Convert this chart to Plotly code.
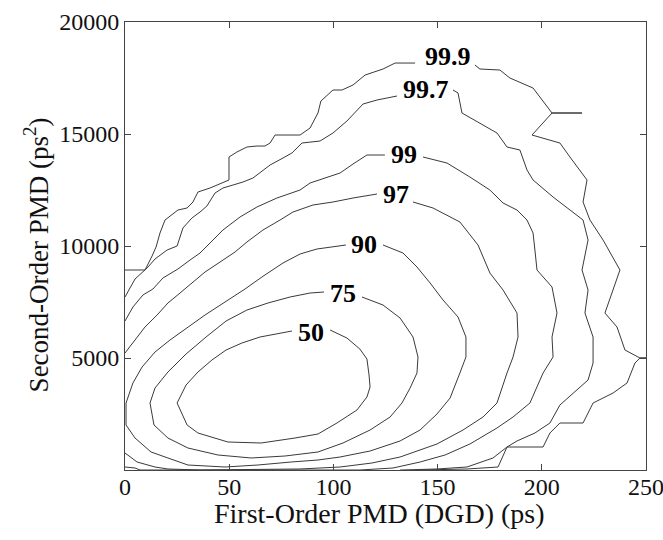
import plotly.graph_objects as go

# Contour levels of the joint first-/second-order PMD distribution (percent of samples enclosed).
# Each level is a polyline in data units; None marks the break left for the inline label.
dgd_50 = [25.0, 29.3, 35.0, 41.7, 48.5, 56.1, 64.8, 73.4, 80.1, None,
          98.4, 106.5, 112.7, 116.1, 117.1, 117.6, 116.1, 111.3, 101.7, 92.6,
          81.6, 65.3, 49.4, 35.0, 29.8, 25.0]
sopmd_50 = [2991, 3794, 4375, 4910, 5357, 5669, 5937, 6071, 6205, None,
            6250, 5892, 5401, 4955, 4241, 3705, 3259, 2678, 2098, 1607,
            1428, 1205, 1250, 1652, 2009, 2991]

dgd_75 = [12.0, 14.4, 20.6, 29.3, 38.9, 48.5, 58.5, 68.6, 79.2, 88.8, 95.5, None,
          113.7, 123.8, 132.0, 138.2, 140.6, 140.1, 136.8, 132.9, 127.2, 117.6,
          104.6, 92.6, 76.8, 60.5, 44.6, 30.2, 20.6, 13.9, 12.0]
sopmd_75 = [2991, 3660, 4375, 5178, 5937, 6651, 7142, 7455, 7723, 7901, 7946, None,
            7723, 7366, 6785, 5937, 5044, 4330, 3660, 2991, 2366, 1786,
            1205, 804, 625, 536, 670, 982, 1428, 2009, 2991]

dgd_90 = [0.5, 3.8, 8.2, 14.4, 21.6, 30.2, 38.4, 48.0, 57.6, 65.7, 75.8, 84.0, 92.1, 106.0, None,
          123.8, 133.4, 140.1, 146.4, 152.6, 159.8, 163.6, 163.6, 160.7, 156.0, 149.7,
          141.6, 132.0, 117.6, 103.2, 92.6, 79.7, 63.8, 48.0, 30.2, 20.6, 12.5, 4.8, 0.5, 0.5]
sopmd_90 = [2991, 3884, 4598, 5267, 5803, 6384, 6919, 7500, 8080, 8616, 9241, 9643, 9866, 10044, None,
            10044, 9687, 9062, 8348, 7589, 6830, 5937, 5044, 4330, 3214, 2500,
            1786, 1295, 848, 580, 446, 357, 223, 134, 223, 536, 804, 1428, 2009, 2991]

dgd_97 = [0, 4.8, 9.6, 15.4, 20.6, 26.4, 32.1, 38.4, 45.6, 52.8, 58.5, 66.2, 74.4, 80.6,
          90.2, 99.8, 109.4, 120.9, None,
          138.2, 147.8, 160.7, 169.4, 175.1, 181.4, 188.1, 188.6, 186.2, 183.3, 178.5,
          171.8, 162.2, 149.7, 132.0, 118.5, 103.2, 84.0, 36.0, 20.6, 14.4, 5.8, 0]
sopmd_97 = [5223, 5803, 6384, 6919, 7455, 7901, 8348, 8839, 9285, 9732, 10178, 10714, 11160, 11517,
            11830, 11964, 12142, 12321, None,
            11964, 11696, 11071, 10044, 8794, 8035, 7008, 5937, 5044, 4330, 2991,
            2366, 1786, 1161, 580, 312, 134, 45, 0, 45, 134, 357, 759]

dgd_99 = [0, 3.8, 8.6, 13.4, 18.2, 25.4, 31.2, 36.0, 40.8, 47.0, 55.2, 63.3, 72.9, 84.0,
          88.8, 96.9, 103.2, 109.4, 116.1, 124.7, None,
          143.0, 154.5, 165.5, 175.1, 181.4, 188.1, 192.9, 195.8, 196.7, 197.7, 204.9,
          207.3, 204.9, 205.4, 200.6, 197.7, 194.3, 186.2, 178.5, 165.5, 153.6, 141.6,
          128.6, 112.7, 7.2, 4.8, 0]
sopmd_99 = [6651, 7276, 7812, 8080, 8571, 8973, 9374, 9687, 10133, 10714, 11294, 11740, 12142, 12499,
            12812, 13080, 13258, 13660, 14062, 14062, None,
            13973, 13704, 13080, 12499, 11919, 11606, 11160, 10580, 9821, 8928, 8169,
            7008, 5937, 5044, 4330, 3705, 2991, 2366, 1875, 1161, 670, 357,
            89, 0, 0, 89, 134]

dgd_997 = [0, 4.8, 10.6, 14.4, 20.2, 25.0, 27.8, 32.1, 36.0, 39.3, 43.2, 47.0, 51.8, 56.6,
           61.4, 66.2, 69.6, 75.8, 80.1, 84.9, 93.6, 99.8, 106.5, 114.2, 120.9, 125.7, 130.5, None,
           157.4, 159.8, 161.7, 170.3, 178.5, 183.3, 189.5, 192.9, 195.8, 205.4, 219.8, 222.2,
           219.3, 222.2, 220.7, 224.6, 224.6, 222.2, 213.5, 208.7, 203.9, 196.7, 188.1, 183.3,
           176.6, 169.4, 164.1, 149.7, 132.0]
sopmd_997 = [7723, 8526, 9017, 9419, 9821, 10000, 10803, 11249, 11517, 11785, 12365, 12589, 12722, 12856,
             13035, 13392, 13615, 13928, 14151, 14597, 14687, 15044, 15579, 16338, 16517, 16606, 16695, None,
             16963, 16830, 15937, 15490, 15044, 14419, 14285, 13392, 12946, 12187, 11160, 10267,
             8928, 8035, 7008, 5937, 4776, 4018, 3303, 2902, 2098, 1652, 1295, 1027,
             536, 312, 134, 45, 0]

dgd_999 = [0, 9.6, 13.0, 14.9, 16.8, 19.2, 25.4, 29.8, 32.6, 35.0, 40.8, 44.1, 48.0, 49.9, 49.9,
           53.7, 58.5, 63.3, 67.2, 69.6, 72.0, 84.0, 88.8, 92.6, 94.0, 99.8, 104.1, 109.4,
           115.2, 120.9, 123.8, 129.6, 139.2, None,
           167.9, 170.3, 179.9, 184.7, 195.8, 199.1, 204.9, 219.3, 204.9, 195.3, 208.7, 213.5,
           221.7, 219.8, 223.1, 229.4, 237.5, 230.3, 236.1, 239.9, 247.1, 250.0, 247.1, 244.7,
           240.9, 234.2, 224.6, 219.8, 208.7, 203.9, 200.6, 183.3, 179.0, 164.1, 141.6]
sopmd_999 = [8928, 8928, 9553, 9955, 10580, 11160, 11606, 11696, 11964, 12410, 12589, 12722, 12856, 12946, 13973,
             14196, 14419, 14463, 14463, 14597, 14954, 14954, 15267, 15937, 16472, 16963, 16963, 17186,
             17633, 17812, 17901, 18168, 18168, None,
             18080, 17901, 17856, 17499, 17052, 16651, 15937, 15937, 15937, 14954, 14597, 13973,
             12946, 11964, 11160, 10267, 8928, 7008, 6384, 5357, 5000, 5000, 5000, 4776,
             3884, 3437, 2991, 2098, 2098, 1652, 1027, 1027, 134, 45, 0]

# Inline contour labels
label_text = ["50", "75", "90", "97", "99", "99.7", "99.9"]
label_dgd = [89.4, 104.8, 114.9, 129.8, 133.7, 144.2, 154.8]
label_sopmd = [6120, 7860, 10060, 12320, 14080, 16990, 18440]

x_ticks = [0, 50, 100, 150, 200, 250]
y_ticks = [5000, 10000, 15000, 20000]

x_title = "First-Order PMD (DGD) (ps)"
y_title = "Second-Order PMD (ps<sup>2</sup>)"

levels = [
    (dgd_50, sopmd_50), (dgd_75, sopmd_75), (dgd_90, sopmd_90), (dgd_97, sopmd_97),
    (dgd_99, sopmd_99), (dgd_997, sopmd_997), (dgd_999, sopmd_999),
]

FONT = "Liberation Serif, Times New Roman, serif"
INK = "#3a3a3a"

fig = go.Figure()
for (xs, ys), name in zip(levels, label_text):
    fig.add_trace(go.Scatter(
        x=xs, y=ys, mode="lines", name=name, connectgaps=False,
        line=dict(color=INK, width=1), hoverinfo="skip", showlegend=False,
    ))

for t, x, y in zip(label_text, label_dgd, label_sopmd):
    fig.add_annotation(x=x, y=y, text=t, showarrow=False,
                       font=dict(family=FONT, size=26, color="#000000", weight="bold"),
                       xanchor="center", yanchor="middle")

# Axis titles placed as paper-anchored annotations
fig.add_annotation(xref="paper", yref="paper", x=0.489, y=-0.096, text=x_title,
                   showarrow=False, xanchor="center", yanchor="middle",
                   font=dict(family=FONT, size=28, color="#111111"))
fig.add_annotation(xref="paper", yref="paper", x=-0.17, y=0.48, text=y_title,
                   showarrow=False, xanchor="center", yanchor="middle", textangle=-90,
                   font=dict(family=FONT, size=27, color="#111111"))

axis_common = dict(
    showgrid=False, zeroline=False, showline=True, mirror="allticks",
    linecolor="#444444", linewidth=1, ticks="inside", ticklen=6, tickcolor="#444444",
    tickfont=dict(family=FONT, size=24, color="#111111"),
    ticklabeloverflow="allow",
)

fig.update_xaxes(range=[0, 250], tickvals=x_ticks, ticktext=[str(v) for v in x_ticks],
                 ticklabelstandoff=-5, **axis_common)
fig.update_yaxes(range=[0, 20000], tickvals=y_ticks, ticktext=[str(v) for v in y_ticks],
                 **axis_common)

fig.update_layout(
    width=663, height=540,
    margin=dict(l=125, r=17, t=22, b=70, autoexpand=False),
    paper_bgcolor="white", plot_bgcolor="white",
    showlegend=False,
)

fig.write_html("out.html")
